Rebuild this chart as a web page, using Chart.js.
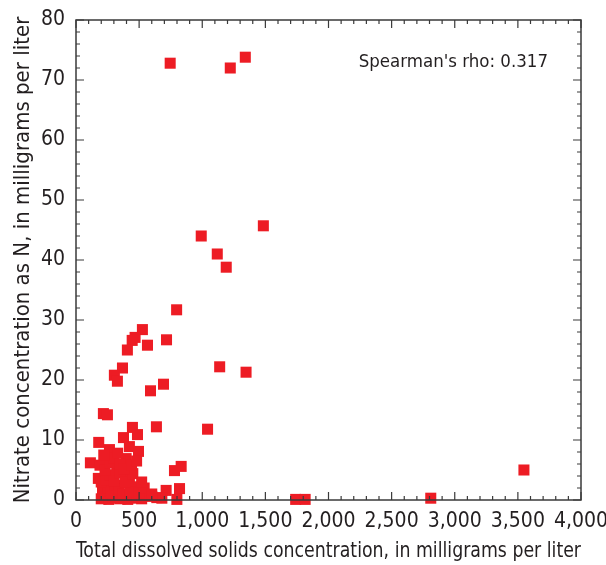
<!DOCTYPE html>
<html>
<head>
<meta charset="utf-8">
<script src="https://cdn.jsdelivr.net/npm/chart.js@4/dist/chart.umd.min.js"></script>
<style>
  html, body { margin: 0; padding: 0; background: #fff; }
  #wrap { width: 606px; height: 565px; }
</style>
</head>
<body>
<div id="wrap"><canvas id="tdsChart" width="606" height="565"></canvas></div>
<script>
// Total dissolved solids (mg/L) and nitrate as N (mg/L), one entry per well
const tdsValues = [
  746, 1222, 1341, 992, 1484, 1119, 1190, 797, 526, 468,
  445, 566, 717, 407, 368, 304, 328, 590, 693, 1138,
  1347, 217, 249, 447, 637, 1042, 487, 376, 180, 265,
  423, 495, 397, 114, 190, 833, 780, 323, 423, 177,
  468, 714, 820, 566, 640, 799, 1740, 1815, 2810, 3548,
  200, 230, 260, 290, 320, 350, 380, 410, 440, 480,
  520, 600, 680, 210, 250, 280, 310, 340, 370, 400,
  430, 500, 540, 600, 200, 240, 270, 300, 350, 390,
  450, 520, 230, 270, 300, 350, 380, 440, 480, 220,
  330
];
const nitrateValues = [
  72.8, 72.0, 73.8, 44.0, 45.7, 41.0, 38.8, 31.7, 28.4, 27.1,
  26.6, 25.8, 26.7, 25.0, 22.0, 20.8, 19.8, 18.2, 19.3, 22.2,
  21.3, 14.4, 14.2, 12.1, 12.2, 11.8, 10.9, 10.4, 9.6, 8.4,
  8.9, 8.1, 6.9, 6.2, 5.8, 5.6, 4.9, 5.6, 3.9, 3.6,
  2.2, 1.6, 1.9, 0.8, 0.4, 0.1, 0.1, 0.1, 0.3, 5.0,
  0.2, 0.5, 0.1, 0.3, 0.6, 0.2, 0.4, 0.1, 0.3, 0.5,
  0.2, 0.6, 0.3, 1.5, 2.0, 1.2, 2.5, 1.8, 1.0, 2.8,
  1.4, 1.2, 2.0, 1.0, 3.0, 3.4, 4.2, 3.2, 4.5, 3.0,
  4.4, 3.0, 5.0, 6.2, 7.0, 6.0, 5.2, 5.8, 6.5, 7.5,
  7.8
];
const xTicks = [0, 500, 1000, 1500, 2000, 2500, 3000, 3500, 4000];
const yTicks = [0, 10, 20, 30, 40, 50, 60, 70, 80];
const rhoLabel = "Spearman's rho: 0.317";

const FONT = "'DejaVu Sans Condensed', 'Liberation Sans Narrow', sans-serif";
const INK = '#231f20';

const points = tdsValues.map((v, i) => ({ x: v, y: nitrateValues[i] }));

// frame, inward ticks on all four sides, and the correlation note
const framePlugin = {
  id: 'frame',
  afterDraw(chart) {
    const { ctx, chartArea: a, scales } = chart;
    const xs = scales.x, ys = scales.y;
    ctx.save();
    ctx.strokeStyle = '#3a3a3a';
    ctx.lineWidth = 1.5;
    ctx.strokeRect(a.left, a.top, a.right - a.left, a.bottom - a.top);
    ctx.lineWidth = 1.2;
    ctx.beginPath();
    for (let v = 0; v <= 4000; v += 100) {
      const px = xs.getPixelForValue(v);
      const len = v % 500 === 0 ? 8 : 4;
      ctx.moveTo(px, a.bottom); ctx.lineTo(px, a.bottom - len);
      ctx.moveTo(px, a.top); ctx.lineTo(px, a.top + len);
    }
    for (let v = 0; v <= 80; v += 2) {
      const py = ys.getPixelForValue(v);
      const len = v % 10 === 0 ? 8 : 4;
      ctx.moveTo(a.left, py); ctx.lineTo(a.left + len, py);
      ctx.moveTo(a.right, py); ctx.lineTo(a.right - len, py);
    }
    ctx.stroke();
    ctx.fillStyle = INK;
    ctx.font = '18.5px ' + FONT;
    ctx.textAlign = 'right';
    ctx.textBaseline = 'middle';
    ctx.fillText(rhoLabel, a.right - 33, ys.getPixelForValue(73.0));
    ctx.restore();
  }
};

new Chart(document.getElementById('tdsChart'), {
  type: 'scatter',
  data: {
    datasets: [{
      data: points,
      pointStyle: 'rect',
      pointRadius: 7.8,
      pointHoverRadius: 7.8,
      pointBorderWidth: 0,
      backgroundColor: '#ed1c24',
      borderColor: '#ed1c24',
      clip: false
    }]
  },
  options: {
    responsive: false,
    animation: false,
    events: [],
    layout: { padding: { top: 20, right: 25, left: 0, bottom: 0 } },
    plugins: { legend: { display: false }, tooltip: { enabled: false } },
    scales: {
      x: {
        type: 'linear',
        min: 0, max: 4000,
        afterBuildTicks: s => { s.ticks = xTicks.map(v => ({ value: v })); },
        ticks: {
          color: INK, padding: 9,
          font: { family: FONT, size: 21 },
          maxRotation: 0,
          callback: v => v.toLocaleString('en-US')
        },
        grid: { display: false, drawTicks: false },
        border: { display: false },
        title: {
          display: true,
          text: 'Total dissolved solids concentration, in milligrams per liter',
          color: INK,
          font: { family: FONT, size: 22 },
          padding: { top: 0, bottom: 1 }
        },
        afterFit: s => { s.height = 65; s.paddingLeft = 0; s.paddingRight = 0; }
      },
      y: {
        type: 'linear',
        min: 0, max: 80,
        afterBuildTicks: s => { s.ticks = yTicks.map(v => ({ value: v })); },
        ticks: {
          color: INK, padding: 11,
          font: { family: FONT, size: 21 }
        },
        grid: { display: false, drawTicks: false },
        border: { display: false },
        title: {
          display: true,
          text: 'Nitrate concentration as N, in milligrams per liter',
          color: INK,
          font: { family: FONT, size: 22 },
          padding: { top: 10, bottom: 0 }
        },
        afterFit: s => { s.width = 76; s.paddingTop = 0; s.paddingBottom = 0; }
      }
    }
  },
  plugins: [framePlugin]
});
</script>
</body>
</html>
